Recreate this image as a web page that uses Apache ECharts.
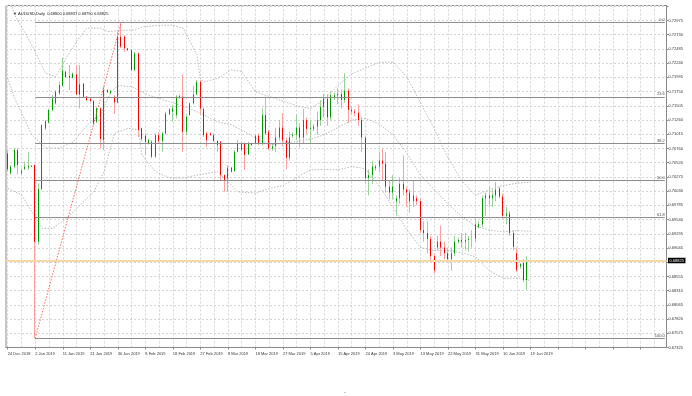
<!DOCTYPE html>
<html><head><meta charset="utf-8">
<script src="https://cdn.jsdelivr.net/npm/echarts@6/dist/echarts.min.js"></script>
<style>html,body{margin:0;padding:0;background:#fff}#c{width:692px;height:396px}</style>
</head><body><div id="c"></div>
<script>
// ---- data ----
const symbolTitle = 'AUDUSD,Daily';
const startDate = '2018-12-24';   // first bar; broker shows Sunday bars, no Saturday bars
const totalSlots = 192;           // bars incl. empty space on the right
const open  = [0.70676,0.70330,0.70445,0.70733,0.70330,0.70405,0.70433,0.70445,0.70474,0.69149,0.70059,0.71108,0.71211,0.71424,0.71540,0.71712,0.71845,0.72087,0.72012,0.71983,0.72040,0.71868,0.71880,0.71655,0.71620,0.71580,0.71223,0.71453,0.70906,0.71770,0.71712,0.71655,0.71557,0.72692,0.72692,0.72490,0.72461,0.72116,0.72404,
 0.71108,0.70981,0.70848,0.70877,0.70618,0.70992,0.70889,0.71021,0.71350,0.71396,0.71338,0.71638,0.71655,0.71050,0.71338,0.71540,0.71695,0.71914,0.71442,0.71021,0.71021,0.70992,0.70889,0.70877,0.70301,0.70244,0.70359,0.70370,0.70704,0.70733,0.70848,0.70658,0.70820,0.70848,0.70981,0.70848,0.71338,0.71050,
 0.7076,0.7080,0.7095,0.7112,0.7090,0.7060,0.7098,0.7100,0.7112,0.7095,0.7125,0.7110,0.7110,0.7114,0.7125,0.7148,0.7162,0.7130,0.7164,0.7168,0.7170,0.7160,0.7176,0.7143,0.7140,0.7138,0.7125,0.7095,0.7025,0.7030,0.7042,0.7045,0.7055,0.7050,0.7010,0.7000,0.6985,0.6990,0.7015,0.7005,0.7000,0.6985,0.6990,0.6985,0.6935,0.6930,0.6920,0.6890,0.6905,0.6915,0.6905,0.6895,0.6885,0.6895,0.6915,0.6918,0.6915,0.6918,0.6920,0.6920,0.6940,0.6945,0.6990,0.6995,0.6990,0.6995,0.7007,0.6993,0.6960,0.6964,0.6930,0.6895,0.6872,0.6878,0.6849,0.68800];
const close = [0.70399,0.70445,0.70733,0.70474,0.70376,0.70445,0.70462,0.70462,0.69149,0.70059,0.71165,0.71234,0.71424,0.71626,0.71741,0.71856,0.72104,0.71995,0.71983,0.72052,0.71695,0.71695,0.71655,0.71597,0.71580,0.71194,0.71453,0.70923,0.71770,0.71730,0.71753,0.71557,0.72692,0.72519,0.72490,0.72461,0.72116,0.72404,0.71079,
 0.70923,0.70877,0.70906,0.70618,0.70992,0.70889,0.71021,0.71367,0.71436,0.71453,0.71655,0.71666,0.71050,0.71309,0.71540,0.71695,0.71914,0.71453,0.70992,0.70906,0.70992,0.70889,0.70818,0.70301,0.70215,0.70428,0.70428,0.70704,0.70848,0.70848,0.70647,0.70848,0.70848,0.70981,0.70848,0.71338,0.71021,0.70762,
 0.7080,0.7095,0.7112,0.7090,0.7060,0.7095,0.7100,0.7112,0.7095,0.7125,0.7110,0.7112,0.7114,0.7125,0.7148,0.7162,0.7130,0.7168,0.7168,0.7170,0.7160,0.7176,0.7143,0.7140,0.7138,0.7125,0.7095,0.7025,0.7030,0.7045,0.7045,0.7055,0.7050,0.7010,0.7000,0.7010,0.6990,0.7015,0.7005,0.7000,0.6985,0.6995,0.6985,0.6935,0.6930,0.6920,0.6890,0.6865,0.6915,0.6905,0.6895,0.6885,0.6895,0.6915,0.6918,0.6915,0.6918,0.6920,0.6920,0.6945,0.6945,0.6990,0.6995,0.6990,0.6995,0.7005,0.6993,0.6960,0.6964,0.6930,0.6906,0.6866,0.6876,0.6849,0.6880,0.68825];
const high  = [0.70733,0.70474,0.70774,0.70762,0.70416,0.70532,0.70704,0.70474,0.70486,0.70157,0.71177,0.71250,0.71450,0.71684,0.71770,0.71914,0.72329,0.72098,0.72202,0.72075,0.72202,0.72202,0.71890,0.71667,0.71630,0.71600,0.71480,0.71480,0.71828,0.71790,0.71770,0.71684,0.72778,0.72939,0.72720,0.72500,0.72480,0.72430,0.72420,
 0.71119,0.71021,0.70930,0.70906,0.71021,0.71038,0.71050,0.71396,0.71453,0.71511,0.71684,0.71695,0.72041,0.71350,0.71557,0.71845,0.71943,0.71943,0.71465,0.71050,0.71038,0.71021,0.70906,0.70889,0.70313,0.70474,0.70445,0.70733,0.70906,0.70877,0.70864,0.70877,0.70860,0.71004,0.71021,0.71453,0.71655,0.71079,
 0.7084,0.7112,0.7125,0.7137,0.7095,0.7105,0.7104,0.7135,0.7120,0.7145,0.7130,0.7125,0.7118,0.7140,0.7160,0.7170,0.7170,0.7175,0.7172,0.7180,0.7178,0.7206,0.7180,0.7150,0.7144,0.7152,0.7130,0.7098,0.7040,0.7055,0.7048,0.7070,0.7075,0.7070,0.7020,0.7030,0.6995,0.7025,0.7064,0.7010,0.7005,0.7020,0.6995,0.6990,0.6950,0.6950,0.6925,0.6895,0.6925,0.6943,0.6915,0.6905,0.6905,0.6925,0.6922,0.6930,0.6930,0.6925,0.6935,0.6955,0.6950,0.6995,0.7000,0.7010,0.7005,0.7018,0.7010,0.6998,0.6975,0.6968,0.6935,0.6905,0.6878,0.6885,0.6890,0.68837];
const low   = [0.70359,0.70313,0.70416,0.70313,0.70301,0.70390,0.70390,0.70440,0.67479,0.69092,0.70040,0.71079,0.71190,0.71400,0.71520,0.71690,0.71830,0.71980,0.71770,0.71970,0.71680,0.71453,0.71640,0.71580,0.71560,0.71165,0.71200,0.70762,0.70733,0.71720,0.71700,0.71355,0.71540,0.72490,0.72430,0.72440,0.72100,0.72100,0.70960,
 0.70889,0.70647,0.70830,0.70590,0.70600,0.70848,0.70704,0.71004,0.71338,0.71223,0.71280,0.71615,0.70704,0.70992,0.71326,0.71522,0.71684,0.71338,0.70963,0.70791,0.70981,0.70877,0.70704,0.70215,0.70013,0.70013,0.70348,0.70359,0.70693,0.70716,0.70388,0.70647,0.70808,0.70830,0.70820,0.70820,0.70992,0.70733,
 0.7072,0.7070,0.7090,0.7080,0.7040,0.7055,0.7094,0.7090,0.7078,0.7085,0.7100,0.7085,0.7106,0.7100,0.7115,0.7130,0.7115,0.7125,0.7160,0.7152,0.7145,0.7155,0.7120,0.7135,0.7132,0.7115,0.7070,0.7015,0.6995,0.7015,0.7038,0.7035,0.7020,0.7000,0.6988,0.6988,0.6960,0.6980,0.6995,0.6975,0.6965,0.6975,0.6978,0.6930,0.6915,0.6895,0.6880,0.6860,0.6900,0.6890,0.6885,0.6880,0.6865,0.6890,0.6912,0.6905,0.6900,0.6898,0.6905,0.6915,0.6938,0.6940,0.6960,0.6975,0.6975,0.6985,0.6990,0.6955,0.6945,0.6925,0.6900,0.6862,0.6868,0.6845,0.6832,0.68790];
// Bollinger bands (dotted), read at the listed bar positions
const bbUpperIdx = [0,2,7,11,14,17,20,23,27,29,33,37,39,44,48,51,52,55,56,57,61,65,68,72,76,80,84,88,92,96,100,104,108,112,116,120,124,128,132,136,140,144,148,152];
const bbUpper    = [0.7345,0.7307,0.7255,0.7206,0.7200,0.7232,0.7261,0.7284,0.7284,0.7278,0.7280,0.7281,0.7286,0.7289,0.7289,0.7284,0.7272,0.7238,0.7197,0.7191,0.7197,0.7212,0.7209,0.7174,0.7166,0.7158,0.7150,0.7145,0.7160,0.7185,0.7205,0.7215,0.7225,0.7225,0.7200,0.7155,0.7110,0.7060,0.7020,0.6995,0.7005,0.7012,0.7016,0.7018];
const bbMiddleIdx = [0,2,5,7,11,15,19,23,27,30,32,36,41,47,53,57,61,65,69,72,76,80,84,88,92,96,100,104,108,112,116,120,124,128,132,136,140,144,148,152];
const bbMiddle    = [0.7198,0.7163,0.7125,0.7100,0.7077,0.7077,0.7087,0.7116,0.7134,0.7174,0.7185,0.7183,0.7168,0.7157,0.7145,0.7134,0.7122,0.7117,0.7105,0.7094,0.7082,0.7085,0.7088,0.7092,0.7100,0.7112,0.7125,0.7128,0.7118,0.7100,0.7068,0.7030,0.7005,0.6980,0.6958,0.6942,0.6935,0.6932,0.6934,0.6933];
const bbLowerIdx = [0,4,7,10,13,17,21,25,28,31,35,38,39,43,47,51,55,61,64,67,72,76,80,84,88,92,96,100,104,108,112,116,120,124,128,132,136,140,144,148,152];
const bbLower    = [0.7007,0.6996,0.6967,0.6938,0.6938,0.6955,0.6978,0.7001,0.7036,0.7102,0.7111,0.7108,0.7065,0.7036,0.7025,0.7025,0.7030,0.7036,0.7019,0.7001,0.6999,0.7007,0.7012,0.7026,0.7039,0.7040,0.7039,0.7045,0.7041,0.7011,0.6975,0.6936,0.6905,0.6900,0.6900,0.6896,0.6889,0.6865,0.6852,0.6852,0.6848];
// Fibonacci retracement levels (lines) and the anchor bars of the red dotted line
const fibLevels = [0.72940,0.71652,0.70854,0.70210,0.69566,0.67480];
const fibNames  = ['0.0','23.6','38.2','50.0','61.8','100.0'];
const fibFrom = 8, fibTo = 33;
const yTickLabels = ['0.67325','0.67575','0.67820','0.68065','0.68310','0.68555','0.68800','0.69045','0.69295','0.69540','0.69785','0.70030','0.70275','0.70520','0.70760','0.71015','0.71260','0.71505','0.71750','0.71995','0.72240','0.72485','0.72730','0.72975'];
const yMin = 0.67322, yMax = 0.73231, yStep = (0.72975 - 0.67325) / 23;

// ---- build ----
const MON = ['Jan','Feb','Mar','Apr','May','Jun','Jul','Aug','Sep','Oct','Nov','Dec'];
const cats = [];
let d = new Date(startDate + 'T12:00:00Z');
while (cats.length < totalSlots) {
  if (d.getUTCDay() !== 6) cats.push(d.getUTCDate() + ' ' + MON[d.getUTCMonth()] + ' ' + d.getUTCFullYear());
  d = new Date(d.getTime() + 86400000);
}
const nBars = close.length;
const last = nBars - 1;
const wickData = open.map((o, i) => [o, close[i], low[i], high[i]]);
const bodyData = open.map((o, i) => [o, close[i], Math.min(o, close[i]), Math.max(o, close[i])]);
const pairs = (idx, arr) => idx.map((ix, k) => [ix, arr[k]]);
const FONT = 'Liberation Sans';
const TXT = '#333';
const bbStyle = {color: '#a8a8a8', width: 0.8, type: [1.5, 1.5]};

const fibLines = fibLevels.map((v, k) => [
  {coord: [fibFrom, v], lineStyle: {color: '#8c8c8c', width: 1, type: 'solid'},
   label: {show: true, formatter: fibNames[k], position: 'insideEndTop', distance: [0, 0.5], fontSize: 4, fontFamily: FONT, color: '#444'}},
  {coord: [totalSlots - 1, v]}
]);

const chart = echarts.init(document.getElementById('c'), null, {renderer: 'canvas'});
chart.setOption({
  animation: false,
  backgroundColor: '#fff',
  title: {
    text: '\u25BC ' + symbolTitle + '  ' + [open[last], high[last], low[last], close[last]].map(v => v.toFixed(5)).join(' '),
    left: 8, top: 7,
    textStyle: {fontSize: 4, fontWeight: 'normal', fontFamily: FONT, color: '#222'}
  },
  graphic: [{type: 'text', left: 344, top: 388, style: {text: '.', fontSize: 7, fill: '#333'}}],
  grid: {left: 6, right: 25.5, top: 5.5, bottom: 48.5, show: true, borderColor: '#8a8a8a', borderWidth: 1},
  xAxis: {
    type: 'category', data: cats, boundaryGap: true,
    axisLine: {show: true, lineStyle: {color: '#8a8a8a'}},
    axisTick: {show: true, interval: 7, alignWithLabel: true, length: 2, lineStyle: {color: '#8a8a8a'}},
    axisLabel: {interval: 7, align: 'left', fontSize: 4, fontFamily: FONT, color: TXT, margin: 4,
      formatter: (v, i) => (i <= last ? v : '')},
    splitLine: {show: true, interval: 3, alignWithLabel: true, lineStyle: {color: '#d4d4d4', type: [2, 2], width: 1}}
  },
  yAxis: {
    type: 'value', position: 'right', min: yMin, max: yMax, interval: yStep, scale: true,
    axisLine: {show: true, lineStyle: {color: '#8a8a8a'}},
    axisTick: {show: true, length: 2, lineStyle: {color: '#8a8a8a'}},
    axisLabel: {fontSize: 4, fontFamily: FONT, color: TXT, margin: 2, showMaxLabel: false,
      formatter: v => { const k = Math.round((v - yMin) / yStep); return yTickLabels[k] || ''; }},
    splitLine: {show: true, lineStyle: {color: '#d4d4d4', type: [2, 2], width: 1}}
  },
  series: [
    {type: 'line', name: 'bbUpper', data: pairs(bbUpperIdx, bbUpper), symbol: 'none', silent: true, z: 2, lineStyle: bbStyle,
     markLine: {symbol: 'none', silent: true, animation: false, precision: 5, data: [
       ...fibLines,
       [{coord: [fibFrom, low[fibFrom]], lineStyle: {color: '#ff4040', width: 0.8, type: [1.5, 1.5]}, label: {show: false}},
        {coord: [fibTo, high[fibTo]]}],
       {yAxis: close[last], lineStyle: {color: '#f7d9a6', width: 2, type: 'solid'},
        label: {show: true, position: 'end', formatter: close[last].toFixed(5), distance: 1.5,
          backgroundColor: '#000', color: '#fff', fontSize: 4, fontFamily: FONT, padding: [1, 1.5, 0.5, 1.5]}}
     ]}},
    {type: 'line', name: 'bbMiddle', data: pairs(bbMiddleIdx, bbMiddle), symbol: 'none', silent: true, z: 2, lineStyle: bbStyle},
    {type: 'line', name: 'bbLower', data: pairs(bbLowerIdx, bbLower), symbol: 'none', silent: true, z: 2, lineStyle: bbStyle},
    {type: 'candlestick', name: 'wick', data: wickData, barWidth: 0.6, silent: true, z: 3,
     itemStyle: {color: '#9ad09a', color0: '#ffa0a0', borderColor: '#9ad09a', borderColor0: '#ffa0a0', borderWidth: 1}},
    {type: 'candlestick', name: 'body', data: bodyData, barWidth: 1.2, silent: true, z: 4,
     itemStyle: {color: '#009a00', color0: '#ff0000', borderColor: '#009a00', borderColor0: '#ff0000', borderWidth: 1}}
  ]
});
</script></body></html>
